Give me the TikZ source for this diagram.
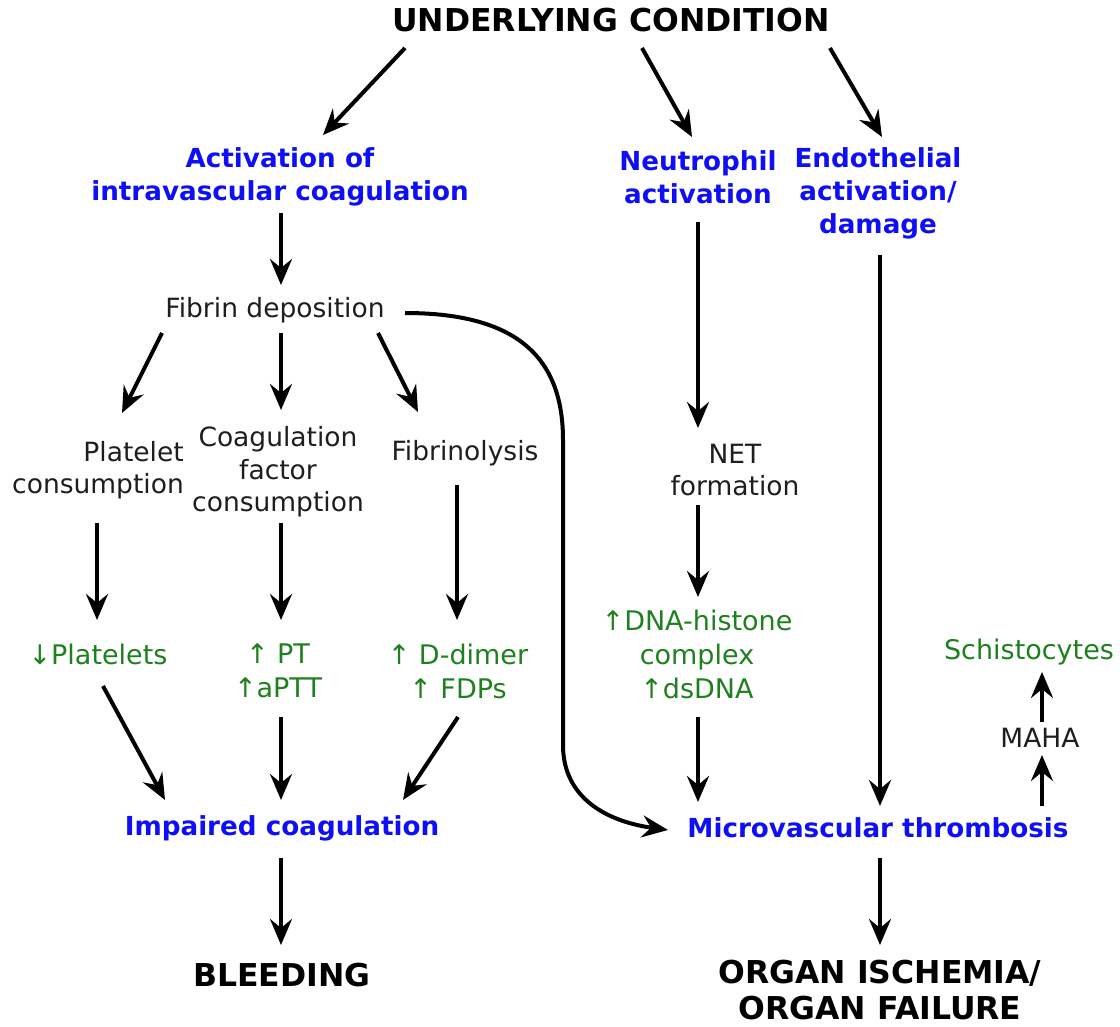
\documentclass[tikz,border=0pt]{standalone}
\usepackage{fontspec}
\setmainfont{DejaVu Sans}
\usetikzlibrary{arrows.meta}
\definecolor{hblue}{RGB}{15,15,245}
\definecolor{hgreen}{RGB}{30,128,30}
\definecolor{txt}{RGB}{30,30,30}
\tikzset{
  plain/.style={inner sep=0pt, text=txt, align=center, font=\fontsize{26.5}{32.5}\selectfont},
  head/.style={inner sep=0pt, text=hblue, align=center, font=\fontsize{26.2}{33}\selectfont\bfseries},
  big/.style={inner sep=0pt, text=black, align=center, font=\fontsize{31.5}{36}\selectfont\bfseries},
  lab/.style={inner sep=0pt, text=hgreen, align=center, font=\fontsize{27}{34}\selectfont},
  arr/.style={draw=black, line width=4pt, -{Stealth[length=26pt,width=22pt,inset=9pt]}}
}
\begin{document}
\begin{tikzpicture}[x=1pt,y=-1pt]
\useasboundingbox (0,0) rectangle (1120,1027);
% nodes
\node[big] (top) at (611,20) {UNDERLYING CONDITION};
\node[head] (act) at (280,177) {Activation of\\intravascular coagulation};
\node[head] (neut) at (698,177) {Neutrophil\\activation};
\node[head] (endo) at (878,193) {Endothelial\\activation/\\damage};
\node[plain] (fib) at (275,310) {Fibrin deposition};
\node[plain, align=right] (plat) at (98,470) {Platelet\\consumption};
\node[plain] (coag) at (278,472) {Coagulation\\factor\\consumption};
\node[plain] (flys) at (465,453) {Fibrinolysis};
\node[plain] (net) at (735,470) {NET\\formation};
\node[lab] (pl) at (98,654) {↓Platelets};
\node[lab] (pt) at (278,671) {↑ PT\\↑aPTT};
\node[lab] (dd) at (458,671) {↑ D-dimer\\↑ FDPs};
\node[lab] (dna) at (697,654) {↑DNA-histone\\complex\\↑dsDNA};
\node[lab] (sch) at (1029,652) {Schistocytes};
\node[plain] (maha) at (1040,738) {MAHA};
\node[head] (imp) at (282,828) {Impaired coagulation};
\node[head] (mic) at (878,828) {Microvascular thrombosis};
\node[big] (bleed) at (282,975) {BLEEDING};
\node[big] (organ) at (880,990) {ORGAN ISCHEMIA/\\ORGAN FAILURE};
% connectors
\draw[arr] ([shift={(-206,28)}]top.center) -- ([shift={(43,-42)}]act.center);
\draw[arr] ([shift={(31,28)}]top.center) -- ([shift={(-6,-40)}]neut.center);
\draw[arr] ([shift={(219,28)}]top.center) -- ([shift={(4,-56)}]endo.center);
\draw[arr] ([shift={(1,36)}]act.center) -- ([shift={(6,-25)}]fib.center);
\draw[arr] ([shift={(-113,23)}]fib.center) -- ([shift={(24,-57)}]plat.center);
\draw[arr] ([shift={(6,23)}]fib.center) -- ([shift={(3,-62)}]coag.center);
\draw[arr] ([shift={(103,23)}]fib.center) -- ([shift={(-47,-41)}]flys.center);
\draw[arr] ([shift={(130,3)}]fib.center) .. controls (520,313) and (563,360) .. (563,440)
  -- (563,745) .. controls (563,800) and (610,822) .. ([shift={(-210,2)}]mic.center);
\draw[arr] ([shift={(0,45)}]neut.center) -- ([shift={(-37,-42)}]net.center);
\draw[arr] ([shift={(2,62)}]endo.center) -- ([shift={(2,-22)}]mic.center);
\draw[arr] ([shift={(-1,53)}]plat.center) -- ([shift={(-1,-34)}]pl.center);
\draw[arr] ([shift={(3,51)}]coag.center) -- ([shift={(3,-51)}]pt.center);
\draw[arr] ([shift={(-8,32)}]flys.center) -- ([shift={(-1,-51)}]dd.center);
\draw[arr] ([shift={(-37,35)}]net.center) -- ([shift={(1,-57)}]dna.center);
\draw[arr] ([shift={(5,32)}]pl.center) -- ([shift={(-117,-28)}]imp.center);
\draw[arr] ([shift={(3,46)}]pt.center) -- ([shift={(-1,-28)}]imp.center);
\draw[arr] ([shift={(0,46)}]dd.center) -- ([shift={(121,-28)}]imp.center);
\draw[arr] ([shift={(1,63)}]dna.center) -- ([shift={(-180,-26)}]mic.center);
\draw[arr] ([shift={(164,-22)}]mic.center) -- ([shift={(2,17)}]maha.center);
\draw[arr] ([shift={(2,-16)}]maha.center) -- ([shift={(13,20)}]sch.center);
\draw[arr] ([shift={(-1,30)}]imp.center) -- ([shift={(-1,-30)}]bleed.center);
\draw[arr] ([shift={(2,30)}]mic.center) -- ([shift={(0,-45)}]organ.center);
\end{tikzpicture}
\end{document}
